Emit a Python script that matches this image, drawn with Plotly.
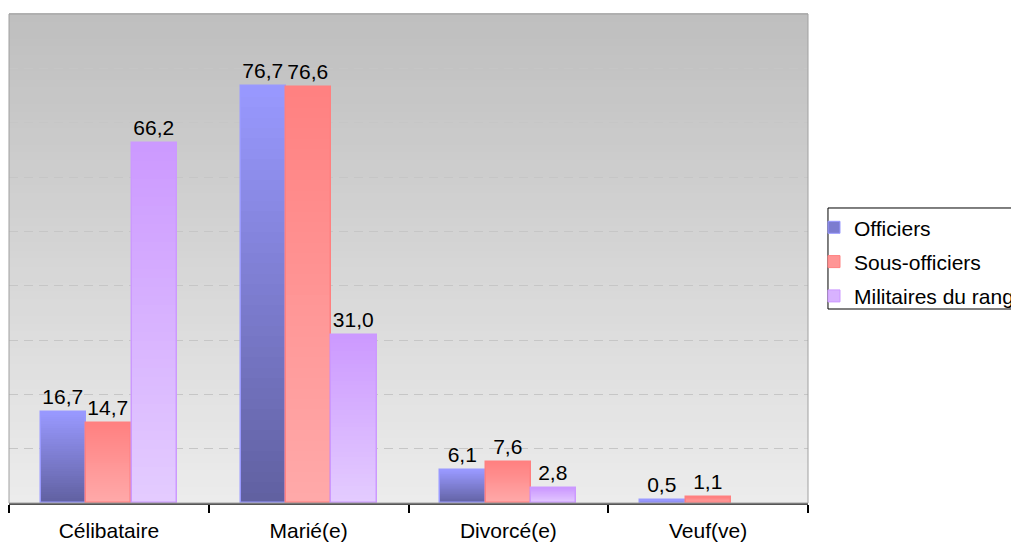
import plotly.graph_objects as go

categories = ["Célibataire", "Marié(e)", "Divorcé(e)", "Veuf(ve)"]
series_names = ["Officiers", "Sous-officiers", "Militaires du rang"]
officiers = [16.7, 76.7, 6.1, 0.5]
sous_officiers = [14.7, 76.6, 7.6, 1.1]
militaires = [66.2, 31.0, 2.8, None]
series_values = [officiers, sous_officiers, militaires]

# styling (bottom colour, top colour) for the vertical gradients
grad = [((96, 96, 160), (153, 153, 255)),
        ((255, 170, 170), (255, 128, 128)),
        ((228, 204, 255), (204, 153, 255))]
offsets = [-0.34, -0.113, 0.114]
bar_w = 0.226
N = 40
FONT = "Liberation Sans, Arial"


def mix(c0, c1, t):
    return "rgb(%d,%d,%d)" % tuple(round(a + (b - a) * t) for a, b in zip(c0, c1))


def fmt(v):
    return "" if v is None else f"{v:.1f}".replace(".", ",")


fig = go.Figure()

for s, (name, vals) in enumerate(zip(series_names, series_values)):
    c0, c1 = grad[s]
    for k in range(N):
        t = (k + 0.5) / N
        fig.add_trace(go.Bar(
            x=categories,
            y=[None if v is None else v / N * 1.02 for v in vals],
            base=[None if v is None else v * k / N for v in vals],
            offset=offsets[s], width=bar_w,
            marker=dict(color=mix(c0, c1, t), line=dict(width=0)),
            showlegend=False, legendgroup=name, hoverinfo="skip",
        ))
    # outline + value labels
    fig.add_trace(go.Bar(
        x=categories, y=vals, offset=offsets[s], width=bar_w,
        marker=dict(color="rgba(0,0,0,0)", line=dict(color=mix(c1, c1, 0), width=1.5)),
        text=[fmt(v) for v in vals], textposition="outside",
        textfont=dict(size=21, color="black", family=FONT),
        constraintext="none", cliponaxis=False,
        showlegend=False, legendgroup=name, name=name,
    ))
    # legend entry
    fig.add_trace(go.Bar(
        x=categories, y=[None] * len(categories), name=name, legendgroup=name,
        marker=dict(color=mix(c0, c1, 0.5), line=dict(color=mix(c1, c1, 0), width=1)),
    ))

# gradient plot background
shapes = []
M = 60
for k in range(M):
    t = k / M
    g = round(236 + (190 - 236) * t)
    shapes.append(dict(type="rect", xref="paper", yref="paper",
                       x0=0, x1=1, y0=t, y1=(k + 1) / M + 0.002,
                       fillcolor=f"rgb({g},{g},{g})", line=dict(width=0), layer="below"))
shapes.append(dict(type="rect", xref="paper", yref="paper", x0=0, x1=1, y0=0, y1=1,
                   line=dict(color="#a0a0a0", width=1), fillcolor="rgba(0,0,0,0)", layer="above"))
# legend frame
shapes.append(dict(type="rect", xref="paper", yref="paper", x0=1.025, x1=1.4,
                   y0=0.3967, y1=0.6033, line=dict(color="black", width=1),
                   fillcolor="white", layer="below"))
fig.update_layout(shapes=shapes)

fig.update_layout(
    width=1011, height=534,
    margin=dict(l=1, r=211, t=6, b=39, autoexpand=False),
    paper_bgcolor="white", plot_bgcolor="#ebebeb",
    barmode="overlay", bargap=0,
    font=dict(family=FONT, size=21, color="black"),
    xaxis=dict(type="category", tickson="boundaries", ticks="outside", ticklen=8,
               tickcolor="black", tickwidth=1.5, showline=True, linecolor="#555555",
               linewidth=2, showgrid=False, tickfont=dict(size=21), range=[-0.5, 3.5],
               ticklabelstandoff=8),
    yaxis=dict(range=[0, 90], dtick=10, showticklabels=False, showgrid=True,
               gridcolor="#c6c6c6", griddash="9px,6px", gridwidth=1, zeroline=False),
    legend=dict(x=1.0075, xanchor="left", y=0.605, yanchor="top",
                bgcolor="rgba(0,0,0,0)", borderwidth=0,
                font=dict(size=21), tracegroupgap=4),
    showlegend=True,
)

fig.write_html("out.html")
